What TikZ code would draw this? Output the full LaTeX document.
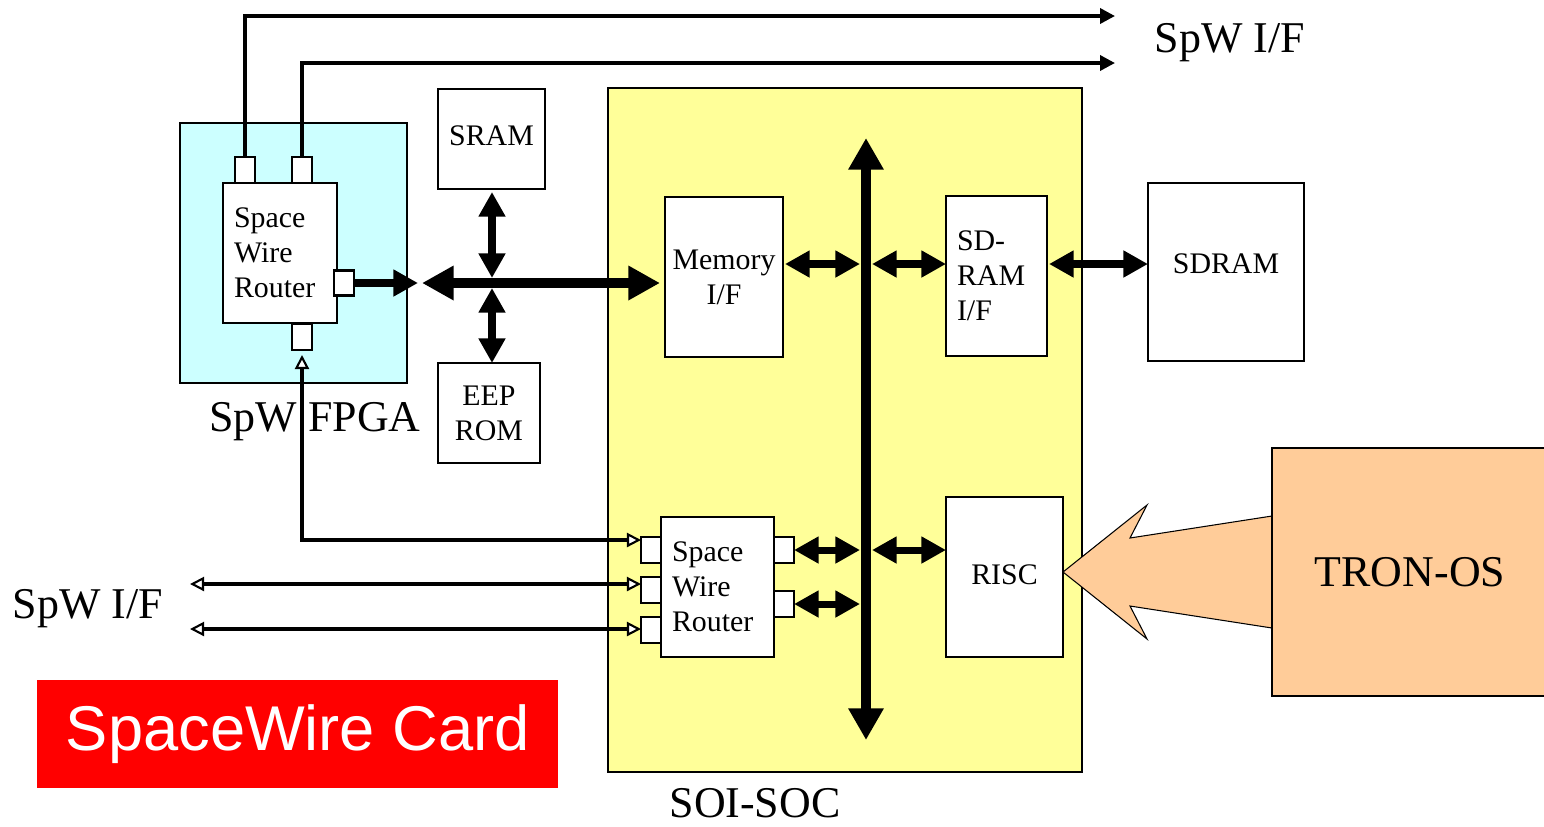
\documentclass[tikz,border=0pt]{standalone}
\usepackage{fontspec}
\setmainfont{Liberation Serif}
\newfontfamily\arialfont{Liberation Sans}
\usetikzlibrary{arrows.meta,calc}
\definecolor{fpgacyan}{HTML}{CCFFFF}
\definecolor{socyellow}{HTML}{FFFF99}
\definecolor{tronorange}{HTML}{FFCC99}
\definecolor{cardred}{HTML}{FF0000}
\tikzset{
  sz/.style 2 args={minimum width=#1*0.02cm, minimum height=#2*0.02cm},
  frame/.style={draw, line width=1.4pt, inner sep=0pt, outer sep=0pt, anchor=north west},
  blk/.style={frame, fill=white, font=\fontsize{17}{20}\selectfont, align=center},
  lefttext/.style={align=left, inner xsep=0.22cm, text width=#1},
  port/.style={draw, line width=1.4pt, fill=white, inner sep=0pt, outer sep=0pt, minimum width=0.4cm, minimum height=0.52cm},
  big/.style={font=\fontsize{25}{30}\selectfont, inner sep=0pt},
  thinarr/.style={line width=2pt, >={Triangle[length=8.5pt,width=8.5pt]}},
  openarr/.style={line width=2pt, >={Triangle[open, fill=white, line width=1.2pt, length=8pt, width=8pt]}},
  med/.style={line width=4pt, >={Triangle[length=14pt,width=14.5pt]}},
  bus/.style={line width=5.7pt, >={Triangle[length=18pt,width=18.5pt]}},
  busv/.style={line width=6.2pt, >={Triangle[length=18pt,width=19pt]}},
}
\begin{document}
\begin{tikzpicture}[x=0.02cm,y=-0.02cm]
\useasboundingbox (0,0) rectangle (1544,826);

% SpW FPGA
\node[frame, fill=fpgacyan, sz={227}{260}] (fpga) at (180,123) {};
\node[big] (fpgalbl) at (315,422) {SpW FPGA};
\node[blk, lefttext=1.84cm, sz={114}{140}] (rt1) at (223,183) {Space\\Wire\\Router};
\node[port] (pt1) at (245,170) {};
\node[port] (pt2) at (302,170) {};
\node[port, minimum height=0.5cm] (prt) at (344,283) {};
\node[port] (pbt) at (302,337) {};

% memories
\node[blk, sz={107}{100}] (sram) at (438,89) {\raisebox{4pt}{SRAM}};
\node[blk, sz={102}{100}] (eep) at (438,363) {EEP\\ROM};

% SOI-SOC
\node[frame, fill=socyellow, sz={474}{684}] (soc) at (608,88) {};
\node[big] (soclbl) at (755,803) {SOI-SOC};
\node[blk, sz={118}{160}] (mem) at (665,197) {Memory\\I/F};
\node[blk, lefttext=1.58cm, sz={101}{160}] (sdif) at (946,196) {SD-\\RAM\\I/F};
\node[blk, sz={117}{160}] (risc) at (946,497) {\raisebox{3pt}{RISC}};
\node[blk, lefttext=1.82cm, sz={113}{140}] (rt2) at (661,517) {Space\\Wire\\Router};
\node[port] (sl1) at (651,550) {};
\node[port] (sl2) at (651,590) {};
\node[port] (sl3) at (651,630) {};
\node[port] (sr1) at (784,550) {};
\node[port] (sr2) at (784,604) {};

\node[blk, sz={156}{178}] (sdram) at (1148,183) {\raisebox{10pt}{SDRAM}};

% labels
\node[big] (spw1) at (1230,43) {SpW I/F};
\node[big] (spw2) at (88,609) {SpW I/F};

% coordinates
\coordinate (o1) at (1115,16);
\coordinate (o2) at (1115,63);
\coordinate (j1) at (418,283);
\coordinate (j2) at (422,283);
\coordinate (bj) at (492,283);
\coordinate (bt) at (866,138);
\coordinate (bb) at (866,740);
\coordinate (cm) at (860,264);
\coordinate (cs) at (872,264);
\coordinate (bl) at (860,600);
\coordinate (br) at (872,600);
\coordinate (e2) at (190,584);
\coordinate (e3) at (190,629);

% SpW lines top
\draw[thinarr,->] (pt1.north) |- (o1);
\draw[thinarr,->] (pt2.north) |- (o2);

% FPGA bus
\draw[med,->] (prt.east) -- (j1);
\draw[bus,<->, shorten >=0.1cm] (j2) -- (mem.west |- j2);
\draw[med,<->, shorten <=0.06cm, shorten >=0.1cm] (bj |- sram.south) -- (bj);
\draw[med,<->, shorten <=0.1cm] (bj) -- (bj |- eep.north);

% SOC bus
\draw[busv,<->] (bt) -- (bb);
\draw[med,<->, shorten <=0.04cm] (mem.east |- cm) -- (cm);
\draw[med,<->] (cs) -- (sdif.west |- cs);
\draw[med,<->, line width=4.6pt, shorten <=0.04cm] (sdif.east |- cs) -- (sdram.west |- cs);
\draw[med,<->] (sr1.east) -- (sr1.east -| bl);
\draw[med,<->] (sr2.east) -- (sr2.east -| bl);
\draw[med,<->] (sr1.east -| br) -- (sr1.east -| risc.west);

% SpW links
\draw[openarr,<->] (e2) -- (sl2.west |- e2);
\draw[openarr,<->] (e3) -- (sl3.west |- e3);
\draw[openarr,<->, shorten <=0.1cm] (pbt.south) |- ([yshift=0.2cm]sl1.west);

% TRON-OS
\draw[line width=0.6pt, fill=tronorange] (1063,572) -- (1147,505) -- (1130,538) -- (1272,516) -- (1272,628) -- (1130,606) -- (1147,639) -- cycle;
\node[frame, fill=tronorange, sz={276}{248}, big] (tron) at (1272,448) {TRON-OS};

% SpaceWire Card
\node[fill=cardred, anchor=north west, sz={521}{108}, inner sep=0pt, text=white, font=\arialfont\fontsize{36}{40}\selectfont] (card) at (37,680) {SpaceWire Card};
\end{tikzpicture}
\end{document}
